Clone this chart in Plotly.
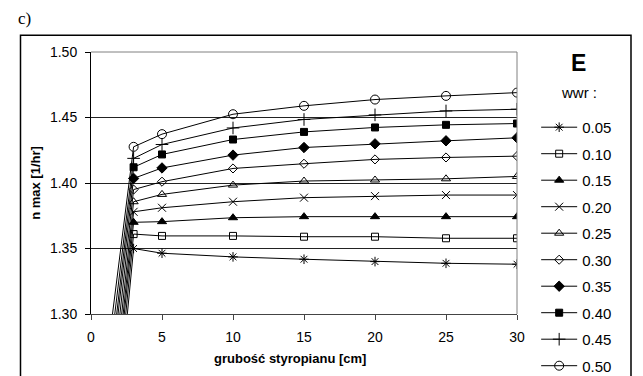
import plotly.graph_objects as go

# data
thickness = [0, 3, 5, 10, 15, 20, 25, 30]
wwr_labels = ["0.05", "0.10", "0.15", "0.20", "0.25", "0.30", "0.35", "0.40", "0.45", "0.50"]
n_005 = [1.01, 1.350, 1.3464, 1.3436, 1.3418, 1.3400, 1.3387, 1.3380]
n_010 = [1.03, 1.361, 1.3596, 1.3596, 1.3590, 1.3590, 1.3578, 1.3578]
n_015 = [1.05, 1.370, 1.3705, 1.3735, 1.3743, 1.3743, 1.3743, 1.3743]
n_020 = [1.06, 1.378, 1.3811, 1.3857, 1.3888, 1.3900, 1.3908, 1.3908]
n_025 = [1.08, 1.3857, 1.3913, 1.3984, 1.4015, 1.4023, 1.4032, 1.4050]
n_030 = [1.10, 1.395, 1.4010, 1.4111, 1.4147, 1.4180, 1.4195, 1.4205]
n_035 = [1.12, 1.4035, 1.4115, 1.4213, 1.4271, 1.4299, 1.4322, 1.4345]
n_040 = [1.13, 1.412, 1.4218, 1.4332, 1.4390, 1.4424, 1.4444, 1.4454]
n_045 = [1.15, 1.4188, 1.4294, 1.4420, 1.4485, 1.4520, 1.4550, 1.4563]
n_050 = [1.17, 1.4276, 1.4373, 1.4525, 1.4589, 1.4637, 1.4665, 1.4690]
series = [n_005, n_010, n_015, n_020, n_025, n_030, n_035, n_040, n_045, n_050]
x_ticks = [0, 5, 10, 15, 20, 25, 30]
y_ticks = [1.30, 1.35, 1.40, 1.45, 1.50]

symbols = ["asterisk-open", "square-open", "triangle-up", "x-thin-open", "triangle-up-open",
           "diamond-open", "diamond", "square", "cross-thin-open", "circle-open"]
sizes = [8, 7, 8, 8, 8, 7, 8, 7, 9, 9]

fig = go.Figure()
for lab, vals, sym, sz in zip(wwr_labels, series, symbols, sizes):
    fig.add_trace(go.Scatter(
        x=thickness, y=vals, name=lab, mode="lines+markers", legendgroup=lab,
        line=dict(color="black", width=1),
        marker=dict(symbol=sym, size=sz, color="black", line=dict(color="black", width=1)),
    ))

font = "Liberation Sans, Arial, sans-serif"
fig.update_layout(
    width=643, height=376,
    margin=dict(l=91, r=126, t=52, b=62, autoexpand=False),
    paper_bgcolor="white", plot_bgcolor="white",
    font=dict(family=font, size=14, color="black"),
    showlegend=True,
    legend=dict(x=1.045, xanchor="left", y=0.775, yanchor="top",
                font=dict(family=font, size=15, color="black"),
                tracegroupgap=4, bgcolor="rgba(0,0,0,0)", itemwidth=36,
                maxheight=600),
    xaxis=dict(range=[0, 30], tickvals=x_ticks, showgrid=False, zeroline=False,
               showline=True, linecolor="#444", linewidth=1, ticks="outside", ticklen=5,
               tickcolor="#444", tickfont=dict(size=14), ticklabelstandoff=5),
    yaxis=dict(range=[1.30, 1.50], tickvals=y_ticks, tickformat=".2f", showgrid=True,
               gridcolor="#222", gridwidth=1, zeroline=False,
               showline=True, linecolor="black", linewidth=1, ticks="outside", ticklen=5,
               tickcolor="black", tickfont=dict(size=14), ticklabelstandoff=5,
               title=dict(text="<b>n max [1/hr]</b>", font=dict(size=13), standoff=6)),
    shapes=[
        dict(type="line", xref="x domain", yref="y domain", x0=0, x1=1, y0=1, y1=1,
             line=dict(color="#808080", width=1), layer="above"),
        dict(type="line", xref="x domain", yref="y domain", x0=1, x1=1, y0=0, y1=1,
             line=dict(color="#808080", width=1), layer="above"),
        dict(type="rect", xref="paper", yref="paper", x0=-0.1655, x1=1.2676, y0=-0.26, y1=1.0637,
             line=dict(color="black", width=1.5), layer="below"),
    ],
    annotations=[
        dict(text="c)", xref="paper", yref="paper", x=(24 - 91) / 426, y=(314 - 18) / 262.3,
             xanchor="center", yanchor="middle", showarrow=False,
             font=dict(family="Liberation Serif, Times New Roman, serif", size=17)),
        dict(text="<b>E</b>", xref="paper", yref="paper", x=(578 - 91) / 426, y=(314 - 63) / 262.3,
             xanchor="center", yanchor="middle", showarrow=False, font=dict(family=font, size=23)),
        dict(text="wwr :", xref="paper", yref="paper", x=(579 - 91) / 426, y=(314 - 92) / 262.3,
             xanchor="center", yanchor="middle", showarrow=False, font=dict(family=font, size=15)),
        dict(text="<b>grubość styropianu [cm]</b>", xref="paper", yref="paper",
             x=(290 - 91) / 426, y=(314 - 359) / 262.3, xanchor="center", yanchor="middle",
             showarrow=False, font=dict(family=font, size=13)),
    ],
)

fig.write_html("out.html", post_script="document.body.style.margin='0';",
               config={"displayModeBar": False})
